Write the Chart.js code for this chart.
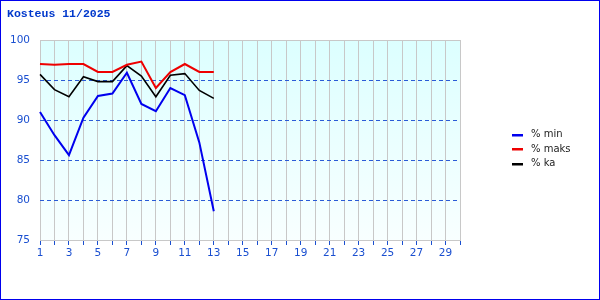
<!DOCTYPE html>
<html>
<head>
<meta charset="utf-8">
<script src="https://cdn.jsdelivr.net/npm/chart.js@4"></script>
<style>
  body { margin: 0; background: #fff; }
  #wrap { width: 600px; height: 300px; }
</style>
</head>
<body>
<div id="wrap"><canvas id="myChart" width="600" height="300"></canvas></div>
<script>
// days of the month
const days = []
for (let d = 1; d <= 30; d++) days.push(String(d))

// humidity values
const minValues = [91.0, 88.1, 85.6, 90.3, 93.0, 93.3, 95.9, 92.0, 91.1, 94.0, 93.1, 87.2, 78.6]
const maxValues = [97.0, 96.9, 97.0, 97.0, 96.0, 96.0, 96.9, 97.3, 94.0, 96.0, 97.0, 96.0, 96.0]
const avgValues = [95.7, 93.8, 92.9, 95.4, 94.8, 94.8, 96.8, 95.5, 92.9, 95.6, 95.8, 93.7, 92.7]

const seriesNames = ['% min', '% maks', '% ka']
const yTicks = [75, 80, 85, 90, 95, 100]

const blue = '#1a4fd0'

// background, frame, title and legend
const decor = {
  id: 'decor',
  beforeDraw(chart) {
    const { ctx, chartArea: a } = chart
    ctx.save()
    let g = ctx.createLinearGradient(0, a.top, 0, a.bottom)
    g.addColorStop(0, '#dcffff')
    g.addColorStop(1, '#f8ffff')
    ctx.fillStyle = g
    ctx.fillRect(a.left, a.top, a.right - a.left, a.bottom - a.top)
    ctx.restore()
  },
  afterDatasetsDraw(chart) {
    const { ctx, chartArea: a } = chart
    ctx.save()
    ctx.strokeStyle = '#c8c8c8'
    ctx.lineWidth = 1
    ctx.beginPath()
    ctx.moveTo(a.left, a.top + 0.5)
    ctx.lineTo(a.right, a.top + 0.5)
    ctx.stroke()
    ctx.restore()
  },
  afterDraw(chart) {
    const ctx = chart.ctx
    ctx.save()
    // title
    ctx.fillStyle = '#0038cc'
    ctx.font = 'bold 11.5px "Liberation Mono", monospace'
    ctx.textBaseline = 'alphabetic'
    ctx.fillText('Kosteus 11/2025', 7, 17)
    // legend
    ctx.font = '10px "DejaVu Sans", sans-serif'
    ctx.textBaseline = 'middle'
    chart.data.datasets.forEach((ds, i) => {
      let y = 134.5 + i * 14.5
      ctx.fillStyle = ds.borderColor
      ctx.fillRect(512, Math.round(y) - 1, 11, 2.5)
      ctx.fillStyle = '#222'
      ctx.fillText(ds.label, 531, y)
    })
    // outer border
    ctx.strokeStyle = '#0000ee'
    ctx.lineWidth = 1
    ctx.strokeRect(0.5, 0.5, 599, 299)
    ctx.restore()
  }
}

const data = {
  labels: days,
  datasets: [
    { label: seriesNames[0], data: minValues, borderColor: '#0000ee', borderWidth: 2 },
    { label: seriesNames[1], data: maxValues, borderColor: '#ee0000', borderWidth: 2 },
    { label: seriesNames[2], data: avgValues, borderColor: '#000000', borderWidth: 1.6 }
  ]
}

const config = {
  type: 'line',
  data: data,
  options: {
    responsive: false,
    animation: false,
    layout: { padding: { top: 40, right: 140, left: 0, bottom: 0 } },
    elements: { point: { radius: 0 }, line: { tension: 0 } },
    plugins: { legend: { display: false }, title: { display: false }, tooltip: { enabled: false } },
    scales: {
      x: {
        afterFit(scale) { scale.height = 60 },
        grid: { color: '#c8c8c8', tickColor: blue, tickLength: 5, offset: false },
        border: { color: '#c8c8c8' },
        ticks: {
          autoSkip: false,
          maxRotation: 0,
          padding: 2,
          color: blue,
          font: { family: 'DejaVu Sans', size: 10.5 },
          callback: (v, i) => (i % 2 === 0 ? days[i] : '')
        }
      },
      y: {
        min: 75,
        max: 100,
        afterFit(scale) { scale.width = 40 },
        afterBuildTicks(scale) { scale.ticks = yTicks.map(v => ({ value: v })) },
        grid: {
          drawTicks: false,
          color: ctx => (ctx.tick && (ctx.tick.value === 75 || ctx.tick.value === 100) ? 'rgba(0,0,0,0)' : '#2a5bd7'),
          lineWidth: 1
        },
        border: { display: false, dash: [4, 3] },
        ticks: {
          padding: 10,
          color: blue,
          font: { family: 'DejaVu Sans', size: 10.5 }
        }
      }
    }
  },
  plugins: [decor]
}

const myChart = new Chart(document.getElementById('myChart'), config)
</script>
</body>
</html>
